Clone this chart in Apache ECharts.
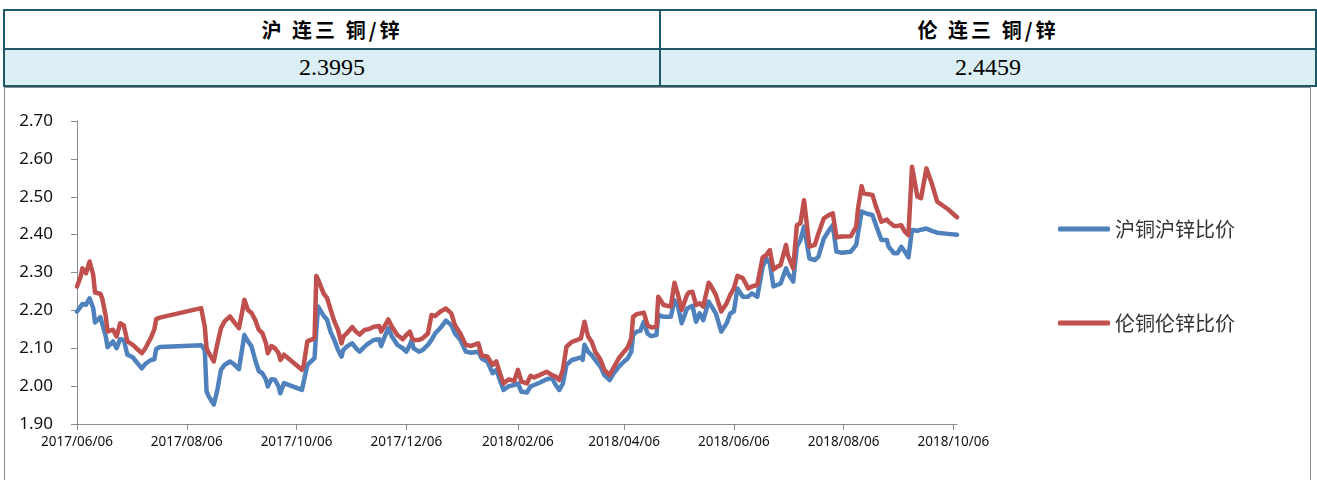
<!DOCTYPE html>
<html>
<head>
<meta charset="utf-8">
<script src="https://cdn.jsdelivr.net/npm/echarts@6/dist/echarts.min.js"></script>
<style>
    html, body { margin: 0; padding: 0; background: #fff; }
    body { width: 1317px; height: 480px; position: relative; overflow: hidden; }
    .cell {
        position: absolute;
        box-sizing: border-box;
        border: 2px solid #215867;
        display: flex;
        align-items: center;
        justify-content: center;
        color: #000;
        white-space: pre;
    }
    .head { background: #fff; font-family: "Noto Sans CJK SC"; font-weight: bold; font-size: 20px; letter-spacing: 3px; }
    .val { background: #daeef3; font-family: "Liberation Serif"; font-size: 24px; }
    #box { position: absolute; left: 4px; top: 87px; width: 1307px; height: 420px; border: 1px solid #8c8c8c; box-sizing: border-box; }
    #main { position: absolute; left: 0; top: 0; width: 1317px; height: 480px; }
</style>
</head>
<body>
<div id="box"></div>
<div id="main"></div>
<div class="cell head" id="h0" style="left:3px;top:9px;width:658px;height:41px;"></div>
<div class="cell head" id="h1" style="left:659px;top:9px;width:658px;height:41px;"></div>
<div class="cell val" id="v0" style="left:3px;top:48px;width:658px;height:39px;"></div>
<div class="cell val" id="v1" style="left:659px;top:48px;width:658px;height:39px;"></div>
<script>
// 表头与最新比价
var tableHeads = ['沪 连三 铜/锌', '伦 连三 铜/锌'];
var tableValues = ['2.3995', '2.4459'];

var seriesNames = ['沪铜沪锌比价', '伦铜伦锌比价'];

// x轴刻度日期
var tickDates = ['2017/06/06', '2017/08/06', '2017/10/06', '2017/12/06', '2018/02/06',
    '2018/04/06', '2018/06/06', '2018/08/06', '2018/10/06'];

var dates = [
    '2017/06/06', '2017/06/08', '2017/06/09', '2017/06/11', '2017/06/13', '2017/06/15', '2017/06/16', '2017/06/19',
    '2017/06/20', '2017/06/22', '2017/06/23', '2017/06/26', '2017/06/28', '2017/06/30', '2017/07/02', '2017/07/04',
    '2017/07/07', '2017/07/09', '2017/07/12', '2017/07/14', '2017/07/17', '2017/07/19', '2017/07/20', '2017/07/22',
    '2017/08/14', '2017/08/16', '2017/08/17', '2017/08/18', '2017/08/21', '2017/08/23', '2017/08/24', '2017/08/25',
    '2017/08/27', '2017/08/30', '2017/09/01', '2017/09/04', '2017/09/06', '2017/09/07', '2017/09/09', '2017/09/11',
    '2017/09/13', '2017/09/15', '2017/09/17', '2017/09/19', '2017/09/20', '2017/09/22', '2017/09/24', '2017/09/26',
    '2017/09/27', '2017/09/29', '2017/10/09', '2017/10/10', '2017/10/12', '2017/10/14', '2017/10/16', '2017/10/17',
    '2017/10/18', '2017/10/21', '2017/10/23', '2017/10/25', '2017/10/27', '2017/10/29', '2017/10/31', '2017/11/01',
    '2017/11/03', '2017/11/06', '2017/11/08', '2017/11/10', '2017/11/13', '2017/11/15', '2017/11/18', '2017/11/21',
    '2017/11/22', '2017/11/24', '2017/11/26', '2017/11/28', '2017/12/01', '2017/12/04', '2017/12/06', '2017/12/08',
    '2017/12/09', '2017/12/10', '2017/12/13', '2017/12/15', '2017/12/18', '2017/12/20', '2017/12/22', '2017/12/25',
    '2017/12/28', '2017/12/31', '2018/01/02', '2018/01/05', '2018/01/08', '2018/01/11', '2018/01/15', '2018/01/17',
    '2018/01/20', '2018/01/23', '2018/01/25', '2018/01/27', '2018/01/29', '2018/02/01', '2018/02/04', '2018/02/06',
    '2018/02/08', '2018/02/11', '2018/02/13', '2018/02/15', '2018/02/18', '2018/02/22', '2018/02/25', '2018/02/27',
    '2018/03/01', '2018/03/03', '2018/03/05', '2018/03/08', '2018/03/11', '2018/03/13', '2018/03/14', '2018/03/15',
    '2018/03/17', '2018/03/19', '2018/03/21', '2018/03/24', '2018/03/26', '2018/03/29', '2018/03/31', '2018/04/03',
    '2018/04/06', '2018/04/08', '2018/04/10', '2018/04/11', '2018/04/13', '2018/04/15', '2018/04/17', '2018/04/19',
    '2018/04/21', '2018/04/24', '2018/04/25', '2018/04/28', '2018/05/02', '2018/05/04', '2018/05/06', '2018/05/08',
    '2018/05/11', '2018/05/12', '2018/05/14', '2018/05/16', '2018/05/18', '2018/05/20', '2018/05/23', '2018/05/24',
    '2018/05/27', '2018/05/30', '2018/06/02', '2018/06/04', '2018/06/06', '2018/06/08', '2018/06/11', '2018/06/14',
    '2018/06/16', '2018/06/19', '2018/06/22', '2018/06/24', '2018/06/26', '2018/06/28', '2018/06/30', '2018/07/02',
    '2018/07/05', '2018/07/06', '2018/07/09', '2018/07/11', '2018/07/13', '2018/07/15', '2018/07/18', '2018/07/21',
    '2018/07/23', '2018/07/26', '2018/07/29', '2018/07/31', '2018/08/02', '2018/08/05', '2018/08/10', '2018/08/13',
    '2018/08/14', '2018/08/16', '2018/08/17', '2018/08/19', '2018/08/22', '2018/08/24', '2018/08/27', '2018/08/30',
    '2018/08/31', '2018/09/03', '2018/09/05', '2018/09/07', '2018/09/09', '2018/09/11', '2018/09/13', '2018/09/16',
    '2018/09/18', '2018/09/21', '2018/09/24', '2018/09/27', '2018/10/03', '2018/10/08'
];

// 沪铜/沪锌
var shRatio = [
    2.197, 2.210, 2.217, 2.215, 2.232, 2.206, 2.168, 2.182,
    2.179, 2.131, 2.103, 2.118, 2.100, 2.124, 2.122, 2.083,
    2.076, 2.064, 2.047, 2.059, 2.069, 2.071, 2.098, 2.103,
    2.108, 2.096, 1.986, 1.975, 1.951, 1.990, 2.017, 2.043,
    2.056, 2.065, 2.059, 2.045, 2.105, 2.135, 2.118, 2.105,
    2.069, 2.040, 2.034, 2.017, 1.999, 2.018, 2.017, 1.999,
    1.981, 2.008, 1.990, 2.012, 2.056, 2.065, 2.074, 2.150,
    2.210, 2.186, 2.175, 2.142, 2.122, 2.096, 2.078, 2.096,
    2.105, 2.113, 2.100, 2.091, 2.105, 2.113, 2.122, 2.124,
    2.106, 2.131, 2.153, 2.131, 2.109, 2.100, 2.091, 2.109,
    2.122, 2.100, 2.091, 2.095, 2.109, 2.122, 2.139, 2.154,
    2.173, 2.161, 2.139, 2.122, 2.091, 2.088, 2.091, 2.072,
    2.065, 2.034, 2.043, 2.016, 1.990, 2.000, 2.003, 2.007,
    1.985, 1.983, 1.999, 2.003, 2.009, 2.018, 2.021, 2.003,
    1.990, 2.007, 2.056, 2.069, 2.073, 2.076, 2.069, 2.109,
    2.091, 2.082, 2.069, 2.051, 2.029, 2.016, 2.032, 2.051,
    2.065, 2.073, 2.091, 2.135, 2.144, 2.146, 2.170, 2.139,
    2.132, 2.135, 2.188, 2.183, 2.183, 2.227, 2.210, 2.166,
    2.205, 2.210, 2.212, 2.170, 2.192, 2.174, 2.223, 2.219,
    2.192, 2.144, 2.166, 2.192, 2.197, 2.258, 2.236, 2.236,
    2.245, 2.236, 2.315, 2.337, 2.324, 2.263, 2.267, 2.271,
    2.311, 2.298, 2.276, 2.368, 2.386, 2.421, 2.337, 2.333,
    2.342, 2.390, 2.412, 2.425, 2.355, 2.352, 2.355, 2.373,
    2.403, 2.461, 2.458, 2.455, 2.452, 2.425, 2.386, 2.386,
    2.368, 2.351, 2.351, 2.368, 2.355, 2.340, 2.412, 2.410,
    2.413, 2.416, 2.410, 2.405, 2.402, 2.3995
];

// 伦铜/伦锌
var lmeRatio = [
    2.263, 2.289, 2.311, 2.298, 2.329, 2.294, 2.247, 2.244,
    2.232, 2.184, 2.144, 2.149, 2.131, 2.166, 2.160, 2.118,
    2.109, 2.100, 2.087, 2.100, 2.127, 2.150, 2.177, 2.181,
    2.206, 2.157, 2.100, 2.090, 2.065, 2.112, 2.113, 2.153,
    2.171, 2.184, 2.171, 2.153, 2.201, 2.228, 2.201, 2.193,
    2.175, 2.149, 2.140, 2.113, 2.087, 2.106, 2.100, 2.087,
    2.069, 2.083, 2.043, 2.056, 2.118, 2.122, 2.127, 2.291,
    2.281, 2.245, 2.232, 2.201, 2.171, 2.149, 2.113, 2.131,
    2.140, 2.156, 2.144, 2.136, 2.149, 2.150, 2.157, 2.159,
    2.144, 2.159, 2.176, 2.157, 2.135, 2.124, 2.135, 2.144,
    2.129, 2.122, 2.122, 2.126, 2.139, 2.188, 2.185, 2.197,
    2.205, 2.192, 2.161, 2.139, 2.109, 2.106, 2.113, 2.080,
    2.078, 2.056, 2.065, 2.034, 2.007, 2.018, 2.014, 2.043,
    2.012, 2.007, 2.027, 2.023, 2.029, 2.038, 2.029, 2.025,
    2.016, 2.043, 2.104, 2.117, 2.122, 2.126, 2.126, 2.170,
    2.131, 2.117, 2.091, 2.069, 2.043, 2.029, 2.047, 2.073,
    2.091, 2.102, 2.126, 2.183, 2.190, 2.192, 2.194, 2.161,
    2.155, 2.157, 2.236, 2.214, 2.210, 2.273, 2.241, 2.201,
    2.241, 2.247, 2.249, 2.214, 2.219, 2.210, 2.273, 2.267,
    2.241, 2.197, 2.219, 2.241, 2.258, 2.291, 2.285, 2.258,
    2.263, 2.267, 2.340, 2.346, 2.359, 2.308, 2.315, 2.320,
    2.373, 2.346, 2.311, 2.425, 2.430, 2.491, 2.368, 2.373,
    2.403, 2.443, 2.452, 2.456, 2.393, 2.395, 2.396, 2.421,
    2.469, 2.528, 2.509, 2.507, 2.505, 2.474, 2.434, 2.440,
    2.434, 2.423, 2.423, 2.425, 2.408, 2.399, 2.579, 2.500,
    2.496, 2.575, 2.535, 2.487, 2.467, 2.4459
];

var colors = ['#4f81bd', '#c0504d'];

document.getElementById('h0').textContent = tableHeads[0];
document.getElementById('h1').textContent = tableHeads[1];
document.getElementById('v0').textContent = tableValues[0];
document.getElementById('v1').textContent = tableValues[1];

function toTime(s) {
    var p = s.split('/');
    return new Date(+p[0], +p[1] - 1, +p[2]).getTime();
}

function pad(n) {
    return n < 10 ? '0' + n : '' + n;
}

var ticks = tickDates.map(toTime);

var makeData = function(values) {
    return dates.map(function(d, i) {
        return [toTime(d), values[i]];
    });
};

var chart = echarts.init(document.getElementById('main'));
var legendText = {
    fontFamily: 'Noto Sans CJK SC',
    fontSize: 20,
    color: '#333'
};
var option = {
    animation: false,
    color: colors,
    grid: {
        left: 77,
        right: 360,
        top: 121,
        bottom: 56
    },
    legend: [{
        data: [seriesNames[0]],
        left: 1053,
        top: 214,
        icon: 'roundRect',
        itemWidth: 52,
        itemHeight: 5,
        textStyle: legendText
    }, {
        data: [seriesNames[1]],
        left: 1053,
        top: 308,
        icon: 'roundRect',
        itemWidth: 52,
        itemHeight: 5,
        textStyle: legendText
    }],
    xAxis: {
        // 日期轴用时间戳数值轴，刻度放在每两个月的6号
        type: 'value',
        min: toTime('2017/06/06'),
        max: toTime('2018/10/08'),
        splitLine: { show: false },
        axisLine: { lineStyle: { color: '#8c8c8c', width: 1 } },
        axisTick: {
            show: true,
            customValues: ticks,
            length: 6,
            lineStyle: { color: '#8c8c8c' }
        },
        axisLabel: {
            customValues: ticks,
            margin: 11,
            color: '#111',
            fontFamily: 'Noto Sans',
            fontSize: 13.5,
            hideOverlap: false,
            formatter: function(v) {
                var d = new Date(v);
                return d.getFullYear() + '/' + pad(d.getMonth() + 1) + '/' + pad(d.getDate());
            }
        }
    },
    yAxis: {
        type: 'value',
        min: 1.9,
        max: 2.7,
        interval: 0.1,
        splitLine: { show: false },
        axisLine: { show: true, lineStyle: { color: '#8c8c8c', width: 1 } },
        axisTick: { show: true, length: 6, lineStyle: { color: '#8c8c8c' } },
        axisLabel: {
            margin: 24,
            color: '#111',
            fontFamily: 'Noto Sans',
            fontSize: 17,
            formatter: function(v) {
                return v.toFixed(2);
            }
        }
    },
    series: [{
        name: seriesNames[0],
        type: 'line',
        symbol: 'none',
        lineStyle: { width: 4.5, cap: 'round', join: 'round' },
        data: makeData(shRatio)
    }, {
        name: seriesNames[1],
        type: 'line',
        symbol: 'none',
        lineStyle: { width: 4.5, cap: 'round', join: 'round' },
        data: makeData(lmeRatio)
    }]
};
chart.setOption(option);
window.onresize = chart.resize;
</script>
</body>
</html>
